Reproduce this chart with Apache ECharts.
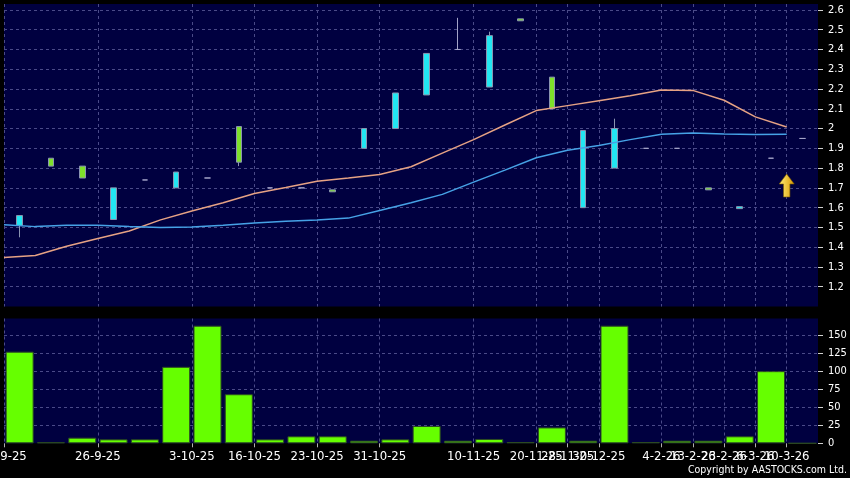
<!DOCTYPE html>
<html><head><meta charset="utf-8">
<script src="https://cdn.jsdelivr.net/npm/echarts@6/dist/echarts.min.js"></script>
<style>html,body{margin:0;padding:0;background:#000;}#c{width:850px;height:478px;}</style>
</head><body><div id="c"></div>
<script>
// trading-day slots (26 sessions)
const sessions = ['s1','s2','s3','s4','s5','s6','s7','s8','s9','s10','s11','s12','s13',
  's14','s15','s16','s17','s18','s19','s20','s21','s22','s23','s24','s25','s26'];
// date tick labels at session boundaries (27 positions)
const tickLabels = ['19-9-25','','','26-9-25','','','3-10-25','','16-10-25','','23-10-25','','31-10-25',
  '','','10-11-25','','20-11-25','28-11-25','30-12-25','','4-2-26','13-2-26','23-2-26','6-3-26','10-3-26',''];
const opens  = [1.51,1.85,1.81,1.54,1.74,1.70,1.75,2.01,1.70,1.70,1.69,1.90,2.00,2.17,2.40,2.21,2.555,2.26,1.60,1.80,1.90,1.90,1.70,1.595,1.85,1.95];
const closes = [1.56,1.81,1.75,1.70,1.74,1.78,1.75,1.83,1.70,1.70,1.68,2.00,2.18,2.38,2.40,2.47,2.545,2.10,1.99,2.00,1.90,1.90,1.69,1.605,1.85,1.95];
const lows   = [1.45,1.81,1.75,1.54,1.74,1.70,1.75,1.81,1.70,1.70,1.68,1.90,2.00,2.17,2.40,2.21,2.545,2.10,1.60,1.80,1.90,1.90,1.69,1.595,1.85,1.95];
const highs  = [1.56,1.85,1.81,1.70,1.74,1.78,1.75,2.01,1.70,1.70,1.69,2.00,2.18,2.38,2.56,2.49,2.555,2.26,1.99,2.05,1.90,1.90,1.70,1.605,1.85,1.95];
const volumes = [127,1.5,7.8,5.5,5.5,106,163,68,5.5,9.7,9.7,3.6,5.5,24,3.6,6,1.8,22,3.6,163,1.8,3.6,3.6,9.7,100,0];
// moving averages plotted at session boundaries
const maSlow = [1.348,1.358,1.405,1.444,1.482,1.538,1.583,1.625,1.672,1.702,1.734,1.750,1.768,1.807,1.876,1.944,2.018,2.091,2.116,2.141,2.166,2.195,2.193,2.143,2.059,2.008];
const maFast = [1.514,1.504,1.511,1.511,1.504,1.499,1.502,1.511,1.522,1.531,1.537,1.547,1.586,1.625,1.667,1.729,1.790,1.852,1.890,1.914,1.944,1.971,1.978,1.973,1.970,1.971];
const arrowIndex = 25, arrowPrice = 1.712;

const candleData = opens.map((o,i)=>[o, closes[i], lows[i], highs[i]]);
const hasLabel = (i, v) => v !== '';
const gridLine = {show:true, interval:hasLabel, lineStyle:{color:'#4a4a88', type:[3,3], width:1}};
const hGridLine = {show:true, showMinLine:false, showMaxLine:false, lineStyle:{color:'#4a4a88', type:[3,3], width:1}};
const yLabel = {color:'#ffffff', fontSize:11, fontFamily:'"DejaVu Sans Condensed","DejaVu Sans"', margin:10};

const chart = echarts.init(document.getElementById('c'), null, {renderer:'canvas'});
chart.setOption({
  animation:false,
  backgroundColor:'#000000',
  grid:[
    {left:4, right:32, top:4, height:302.5, show:true, backgroundColor:'#000040', borderWidth:0, outerBoundsMode:'none', containLabel:false},
    {left:4, right:32, top:318.5, height:124.8, show:true, backgroundColor:'#000040', borderWidth:0, outerBoundsMode:'none', containLabel:false}
  ],
  xAxis:[
    {type:'category', gridIndex:0, data:sessions, boundaryGap:true, show:false, position:'top'},
    {type:'category', gridIndex:0, data:tickLabels, boundaryGap:false, position:'bottom',
     axisLine:{show:false}, axisTick:{show:false}, axisLabel:{show:false}, splitLine:gridLine},
    {type:'category', gridIndex:1, data:sessions, boundaryGap:true, show:false, position:'top'},
    {type:'category', gridIndex:1, data:tickLabels, boundaryGap:false, position:'bottom',
     axisLine:{show:false},
     axisTick:{show:true, interval:hasLabel, length:4, lineStyle:{color:'#b0b0b0'}},
     axisLabel:{interval:0, color:'#ffffff', fontSize:11.7, fontFamily:'"DejaVu Sans"', margin:8},
     splitLine:gridLine}
  ],
  yAxis:[
    {type:'value', gridIndex:0, position:'right', min:1.1, max:2.63, interval:0.1, scale:true,
     axisLine:{show:false}, axisTick:{show:true, length:5, lineStyle:{color:'#d0d0d0'}},
     axisLabel:Object.assign({showMinLabel:false, showMaxLabel:false}, yLabel),
     splitLine:hGridLine},
    {type:'value', gridIndex:1, position:'right', min:0, max:173, interval:25,
     axisLine:{show:false}, axisTick:{show:true, length:5, lineStyle:{color:'#d0d0d0'}},
     axisLabel:Object.assign({showMaxLabel:false}, yLabel),
     splitLine:hGridLine}
  ],
  series:[
    {type:'candlestick', xAxisIndex:0, yAxisIndex:0, data:candleData, barWidth:6,
     itemStyle:{color:'#22e6f2', color0:'#7ee02a', borderColor:'#8a94b0', borderColor0:'#8a94b0',
                borderColorDoji:'#a4a4c8', borderWidth:1}},
    {type:'line', xAxisIndex:1, yAxisIndex:0, data:maSlow, symbol:'none', z:3,
     lineStyle:{color:'#e6a284', width:1.5},
     markPoint:{silent:true, data:[{coord:[arrowIndex, arrowPrice],
       symbol:'path://M7,0 L14,10 L10,10 L10,23 L4,23 L4,10 L0,10 Z', symbolSize:[15,23],
       itemStyle:{color:new echarts.graphic.LinearGradient(0,0,1,0,[{offset:0,color:'#fff07a'},{offset:1,color:'#d99800'}]),
                  borderColor:'#7a5a00', borderWidth:0.6},
       label:{show:false}}]}},
    {type:'line', xAxisIndex:1, yAxisIndex:0, data:maFast, symbol:'none', z:3,
     lineStyle:{color:'#46a2e6', width:1.5}},
    {type:'bar', xAxisIndex:2, yAxisIndex:1, data:volumes, barWidth:28,
     itemStyle:{color:'#66ff00', borderColor:'#2c4a22', borderWidth:1}}
  ],
  graphic:[
    {type:'text', right:3, bottom:2, style:{text:'Copyright by AASTOCKS.com Ltd.', fill:'#ffffff',
      font:'10.5px "DejaVu Sans Condensed","DejaVu Sans"'}}
  ]
});
</script></body></html>
